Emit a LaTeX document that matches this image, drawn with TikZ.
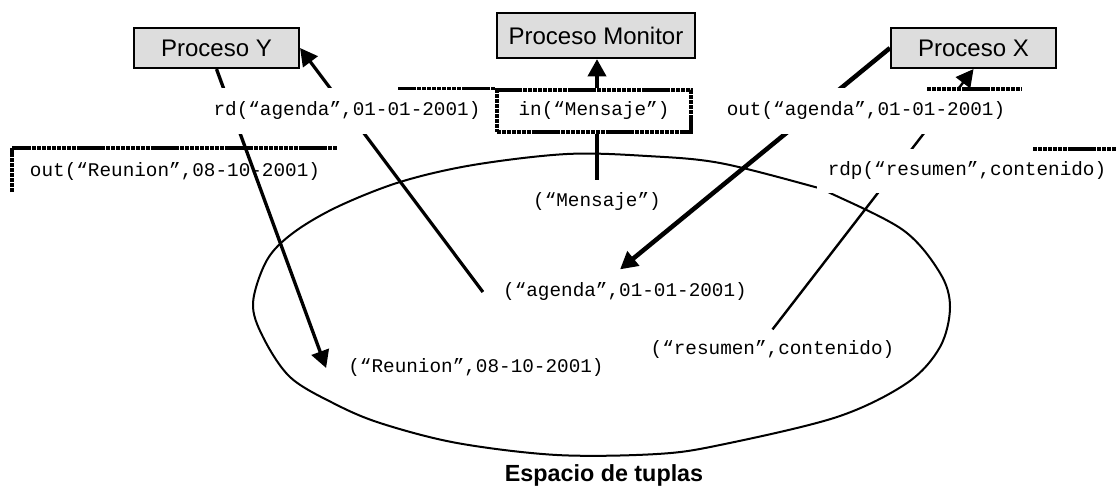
\documentclass[tikz,border=0pt]{standalone}
\usepackage{fontspec}
\setmainfont{Liberation Sans}
\newfontfamily\codefont{Liberation Mono}
\usetikzlibrary{arrows.meta,calc}
\definecolor{procgray}{RGB}{221,221,221}
\pgfdeclarelayer{front}
\pgfsetlayers{main,front}

\begin{document}
\begin{tikzpicture}[x=0.75pt,y=-0.75pt,
  proc/.style={draw=black, line width=1.6pt, fill=procgray, inner sep=0pt,
    font=\fontsize{18}{21}\selectfont},
  tuple/.style={inner sep=0pt, text height=10.5pt, text depth=3.5pt,
    font=\codefont\fontsize{14.5}{17}\selectfont},
  oplabel/.style={tuple, fill=white, minimum height=46*0.75pt},
  framebar/.style={line width=2.4pt, dash pattern=on 3.2pt off 0.5pt},
  conn/.style={-{Triangle[length=13pt,width=13.5pt]}},
]
\useasboundingbox (0,0) rectangle (1117,490);

% processes
\node[proc, minimum width=165*0.75pt, minimum height=40*0.75pt] (procY) at (216.5,48) {Proceso Y};
\node[proc, minimum width=198*0.75pt, minimum height=45*0.75pt] (monitor) at (596,35.5) {Proceso Monitor};
\node[proc, minimum width=165*0.75pt, minimum height=40*0.75pt] (procX) at (973.5,48) {Proceso X};

% tuples held in the space
\node[tuple] (tupMensaje) at (597,202) {(“Mensaje”)};
\node[tuple] (tupAgenda) at (625,292) {(“agenda”,01-01-2001)};
\node[tuple] (tupReunion) at (476,368) {(“Reunion”,08-10-2001)};
\node[tuple] (tupResumen) at (772.5,350) {(“resumen”,contenido)};
\node[inner sep=0pt, font=\bfseries\fontsize{17.5}{20}\selectfont] (title) at (604,475) {Espacio de tuplas};

% operation not masking the lines
\node[tuple] (opOutReunion) at (175,172) {out(“Reunion”,08-10-2001)};

% operations on white frames, above the connectors
\begin{pgfonlayer}{front}
\node[oplabel, minimum width=290*0.75pt] (opRd) at (347,111) {rd(“agenda”,01-01-2001)};
\node[oplabel, minimum width=290*0.75pt] (opOutAgenda) at (866,111) {out(“agenda”,01-01-2001)};
\node[oplabel, minimum width=300*0.75pt, minimum height=44*0.75pt] (opRdp) at (967,171) {rdp(“resumen”,contenido)};
\node[tuple, fill=white, draw=black, line width=2.4pt, dash pattern=on 3.2pt off 0.5pt,
  minimum width=194*0.75pt, minimum height=42*0.75pt] (inBox) at (594,111) {in(“Mensaje”)};
% visible edges of the text frames
\draw[framebar] (inBox.north west) -- ++(-97,0);
\draw[framebar] (927,89) -- (1022,89);
\draw[framebar] (1033,149) -- (1117,149);
\draw[framebar] (12,192) -- (12,148) -- (337,148);
\end{pgfonlayer}

% tuple space outline
\draw[line width=1.5pt] plot[smooth cycle, tension=0.55] coordinates {
  (253,303) (263,337) (290,377) (333,403) (380,423) (457,443) (557,455)
  (657,454) (720,445) (837,417) (907,383) (940,347) (950,307) (940,273)
  (903,230) (828,192) (815,187) (720,163) (647,156) (567,154) (473,165)
  (400,182) (337,207) (293,233) (267,260)};

% connectors
\draw[conn, line width=2.5pt] (procY.south) -- ($(tupReunion.west)+(-22,0)$);
\draw[conn, line width=2.4pt] ($(tupAgenda.west)+(-20,0)$) -- (procY.east);
\draw[conn, line width=3pt] (tupMensaje.north |- inBox.north) -- (tupMensaje.north |- monitor.south);
\draw[line width=3pt] (tupMensaje.north |- inBox.south) -- ($(tupMensaje.north)+(0,-12)$);
\draw[conn, line width=3.4pt] (procX.west) -- ($(tupAgenda.north)+(-5,-13)$);
\draw[conn, line width=1.8pt] ($(tupResumen.north)+(0,-11)$) -- (procX.south);
\end{tikzpicture}
\end{document}
